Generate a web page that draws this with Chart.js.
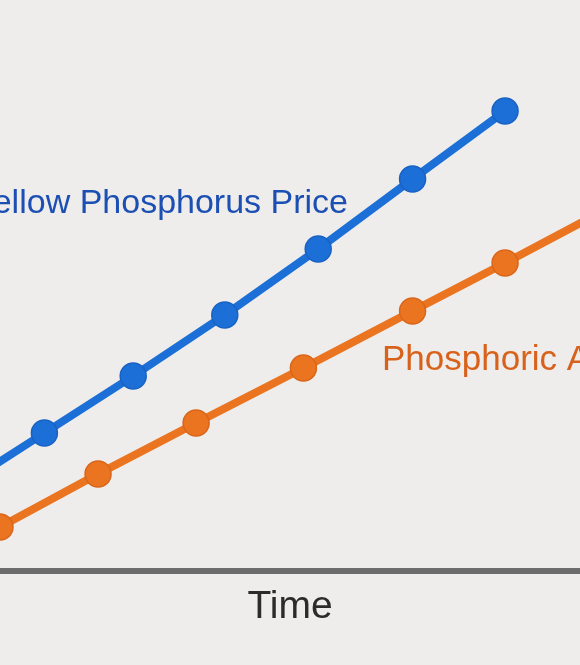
<!DOCTYPE html>
<html>
<head>
<meta charset="utf-8">
<script src="https://cdn.jsdelivr.net/npm/chart.js@4"></script>
<style>
  html, body { margin: 0; padding: 0; background: #eeedeb; }
  #wrap { width: 580px; height: 665px; position: relative; }
  canvas { display: block; }
</style>
</head>
<body>
<div id="wrap"><canvas id="c" width="580" height="665"></canvas></div>
<script>
// ---- data (time units, price index) ----
const seriesNames = ['Yellow Phosphorus Price', 'Phosphoric Acid Price'];
const axisTitle = 'Time';

const yellowTime  = [-0.5, 0.48, 1.44, 2.43, 3.44, 4.46, 5.46];
const yellowPrice = [8.0, 13.8, 19.5, 25.6, 32.2, 39.2, 46.0];

const acidTime  = [0.0, 1.06, 2.12, 3.28, 4.46, 5.46, 6.5];
const acidPrice = [4.4, 9.7, 14.8, 20.3, 26.0, 30.8, 35.9];

const xRange = [0, 6.27];
const yRange = [0, 57.1];

function pairs(xs, ys) { return xs.map((x, i) => ({ x: x, y: ys[i] })); }

const BLUE = '#1b6fd6', BLUE_DARK = '#1962c4', BLUE_TEXT = '#1b4fb3';
const ORANGE = '#ea7420', ORANGE_DARK = '#d9661a', ORANGE_TEXT = '#d8621b';
const FONT = '"Liberation Sans", Arial, Helvetica, sans-serif';

const labelPlugin = {
  id: 'seriesLabels',
  afterDatasetsDraw(chart) {
    const ctx = chart.ctx;
    ctx.save();
    ctx.textBaseline = 'alphabetic';
    ctx.font = '34px ' + FONT;
    ctx.fillStyle = BLUE_TEXT;
    ctx.textAlign = 'right';
    ctx.fillText(seriesNames[0], 348, 213);
    ctx.font = '35px ' + FONT;
    ctx.fillStyle = ORANGE_TEXT;
    ctx.textAlign = 'left';
    ctx.fillText(seriesNames[1], 382, 370);
    ctx.restore();
  }
};

new Chart(document.getElementById('c'), {
  type: 'line',
  data: {
    datasets: [
      {
        label: seriesNames[0],
        data: pairs(yellowTime, yellowPrice),
        borderColor: BLUE,
        borderWidth: 8,
        backgroundColor: BLUE,
        pointBackgroundColor: BLUE,
        pointBorderColor: BLUE_DARK,
        pointBorderWidth: 1.5,
        pointRadius: 13,
        tension: 0,
        borderCapStyle: 'round',
        borderJoinStyle: 'round'
      },
      {
        label: seriesNames[1],
        data: pairs(acidTime, acidPrice),
        borderColor: ORANGE,
        borderWidth: 8,
        backgroundColor: ORANGE,
        pointBackgroundColor: ORANGE,
        pointBorderColor: ORANGE_DARK,
        pointBorderWidth: 1.5,
        pointRadius: 13,
        tension: 0,
        borderCapStyle: 'round',
        borderJoinStyle: 'round'
      }
    ]
  },
  options: {
    responsive: false,
    animation: false,
    events: [],
    layout: { padding: 0, autoPadding: false },
    plugins: { legend: { display: false }, tooltip: { enabled: false } },
    scales: {
      x: {
        type: 'linear',
        min: xRange[0],
        max: xRange[1],
        grid: { display: false, drawTicks: false },
        border: { display: true, color: '#6c6c6c', width: 6 },
        ticks: { display: false },
        title: {
          display: true,
          text: axisTitle,
          color: '#2b2b2b',
          font: { family: FONT, size: 39 },
          padding: { top: 12.6, bottom: 34.6 }
        }
      },
      y: {
        display: false,
        min: yRange[0],
        max: yRange[1]
      }
    }
  },
  plugins: [labelPlugin]
});
</script>
</body>
</html>
